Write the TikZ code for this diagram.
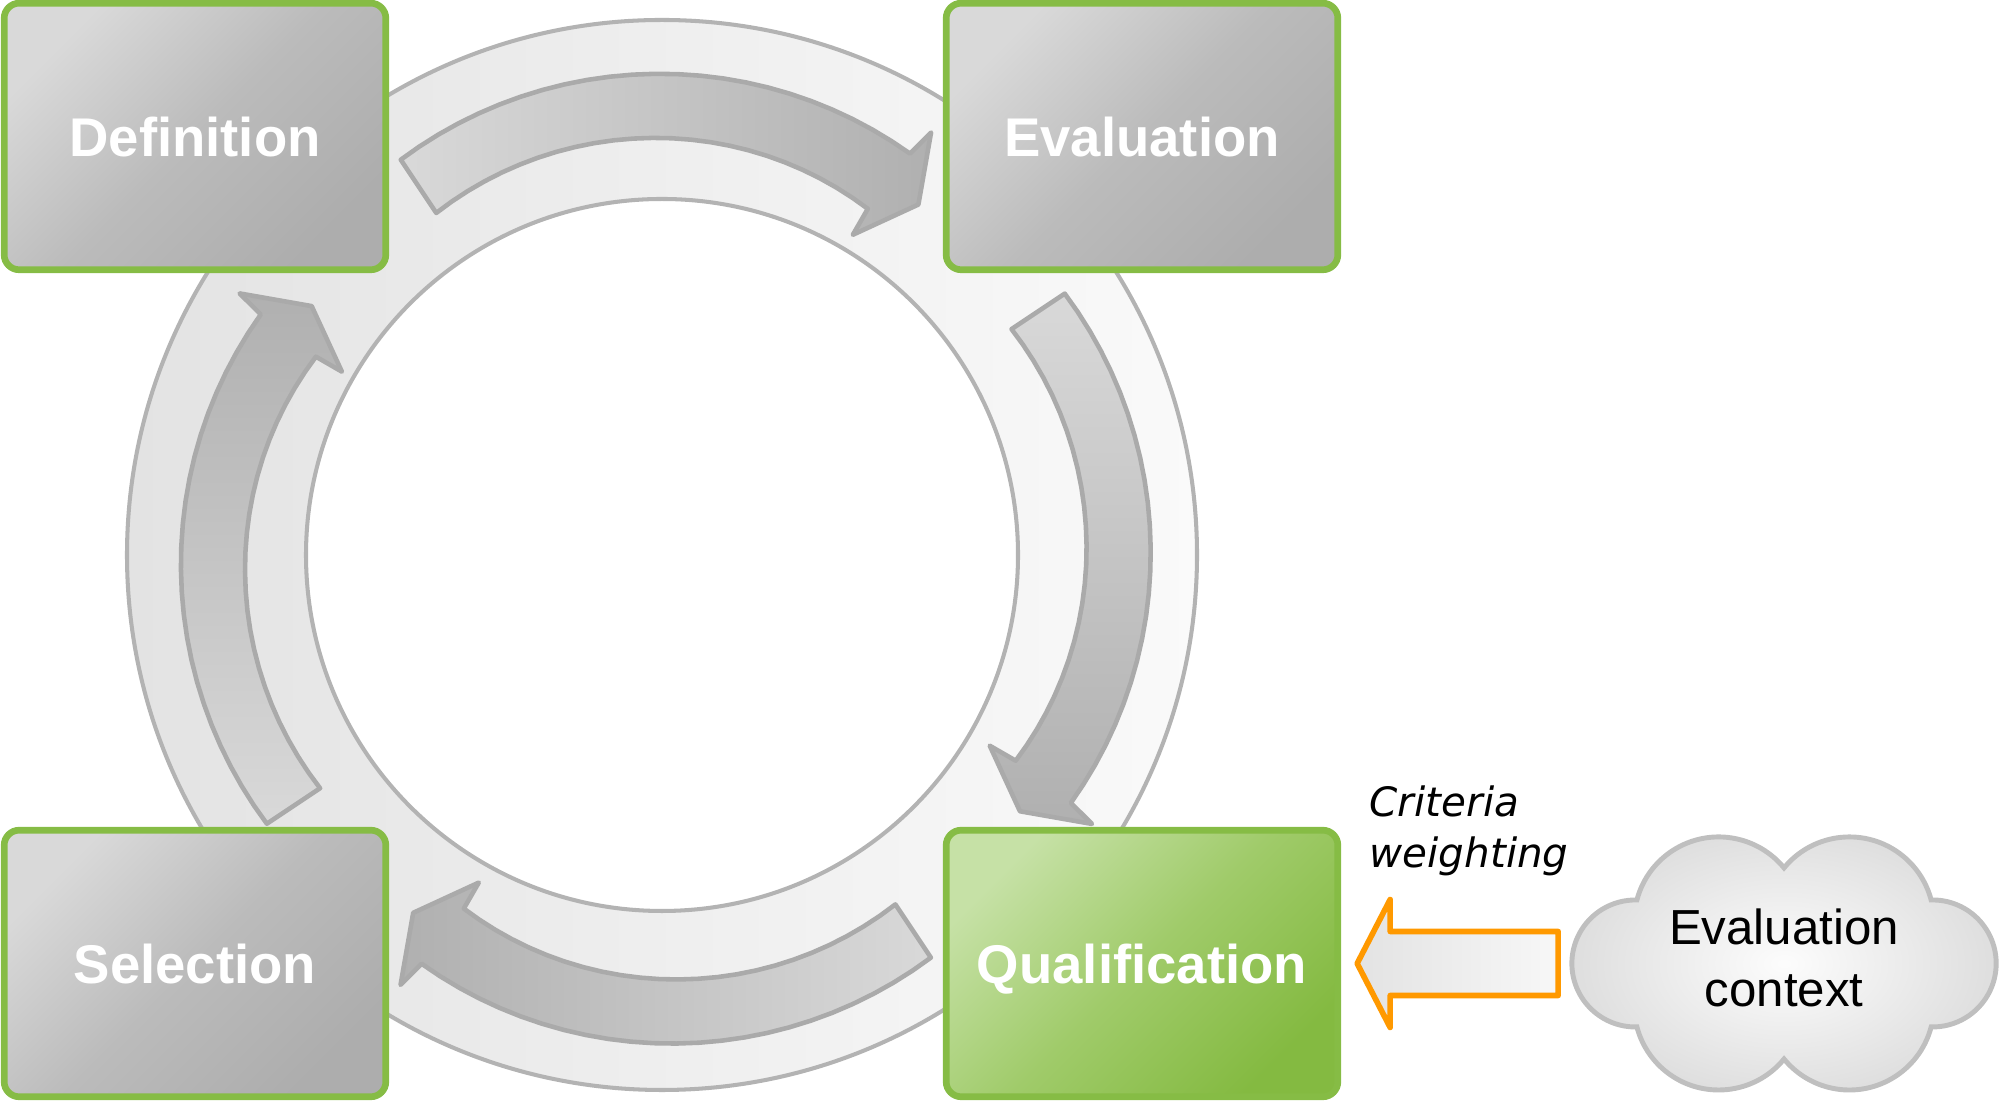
\documentclass[tikz,border=0pt]{standalone}
\usepackage{fontspec}
\setmainfont{Liberation Sans}
\newfontfamily\critfont{DejaVu Sans}
\usepackage{tikz}
\usetikzlibrary{calc}

\definecolor{boxgreen}{HTML}{86BC45}
\definecolor{boxlight}{HTML}{D9D9D9}
\definecolor{boxmid}{HTML}{BBBBBB}
\definecolor{boxdark}{HTML}{ADADAD}
\definecolor{qualight}{HTML}{C6E1A6}
\definecolor{qualmid}{HTML}{A0CB6A}
\definecolor{qualdark}{HTML}{84BA41}
\definecolor{ringline}{HTML}{B3B3B3}
\definecolor{arrowline}{HTML}{AAAAAA}
\definecolor{weightorange}{HTML}{FF9900}

\begin{document}
\begin{tikzpicture}[x=0.01cm, y=0.01cm,
      stagebox/.style={draw=boxgreen, line width=1.9pt, rounded corners=0.15cm,
        minimum height=2.664cm, text=white, text depth=0pt,
        font=\fontsize{15.5}{18}\selectfont\bfseries,
        top color=boxlight, bottom color=boxdark, middle color=boxmid,
        shading angle=45},
      qualbox/.style={stagebox, top color=qualight, bottom color=qualdark,
        middle color=qualmid, shading angle=45},
      ringband/.style={draw=ringline, line width=1.15pt, even odd rule,
        left color=black!11, right color=black!2},
      cyclearrow/.style={draw=arrowline, line width=1.3pt, line join=round,
        left color=black!15, right color=black!31},
      weightarrow/.style={draw=weightorange, line width=1.6pt, line join=round,
        left color=black!11, right color=black!3},
      cloudline/.style={draw=black!25, line width=1.4pt,
        inner color=black!1, outer color=black!13},
      ctxtext/.style={align=center, font=\fontsize{14}{17.7}\selectfont},
      critlabel/.style={align=left, inner sep=0pt,
        font=\critfont\fontsize{11.5}{14.5}\selectfont\itshape}]

      \useasboundingbox (0,0) rectangle (2000,1101);

      % ring and the four curved arrows
      \coordinate (ring-c) at (662,546);
      \coordinate (arrow-c) at (665.8,542.3);
      \path[ringband] (ring-c) circle[radius=535] (ring-c) circle[radius=356];

      \foreach \t/\sa in {123.6/90, 33.6/0, -56.4/-90, -146.4/-180}
        \path[cyclearrow, shading angle=\sa, shift={(arrow-c)}]
          plot[variable=\s, domain=0:1, samples=25]
            ({\t-64.7*\s}:{479+30*\s-36*\s*\s})
          -- ({\t-65.5}:502) -- ({\t-69.1}:435) -- ({\t-63.6}:374)
          -- plot[variable=\s, domain=1:0, samples=25]
            ({\t-63.6*\s}:{415+35*\s-46*\s*\s})
          -- cycle;

      % stages
      \node[stagebox, minimum width=3.814cm] (stage-def) at (195,964.5) {Definition};
      \node[stagebox, minimum width=3.914cm] (stage-eval) at (1142,964.5) {Evaluation};
      \node[stagebox, minimum width=3.814cm] (stage-sel) at (195,137.5) {Selection};
      \node[qualbox, minimum width=3.914cm] (stage-qual) at (1142,137.5) {Qualification};

      % evaluation context
      \coordinate (ctx-c) at (1784,137.5);
      \path[cloudline] ($(ctx-c)+(-147.1,63.5)$)
        arc[start angle=165.3, end angle=39.3, radius=84.5]
        arc[start angle=140.7, end angle=14.7, radius=84.5]
        arc[start angle=91.4, end angle=-91.4, radius=63.5]
        arc[start angle=-14.7, end angle=-140.7, radius=84.5]
        arc[start angle=-39.3, end angle=-165.3, radius=84.5]
        arc[start angle=-88.6, end angle=-271.4, radius=63.5] -- cycle;
      \node[ctxtext] (ctx-cloud) at ($(ctx-c)+(0,5.5)$) {Evaluation\\context};

      \path[weightarrow] ($(stage-qual.east)+(16,0)$) coordinate (w-tip)
        -- ++(33,64) -- ++(0,-32) -- ++(168,0) -- ++(0,-64)
        -- ++(-168,0) -- ++(0,-32) -- cycle;
      \node[critlabel, anchor=north west] (crit-lbl) at (1369,316) {Criteria\\weighting};
    \end{tikzpicture}
\end{document}
